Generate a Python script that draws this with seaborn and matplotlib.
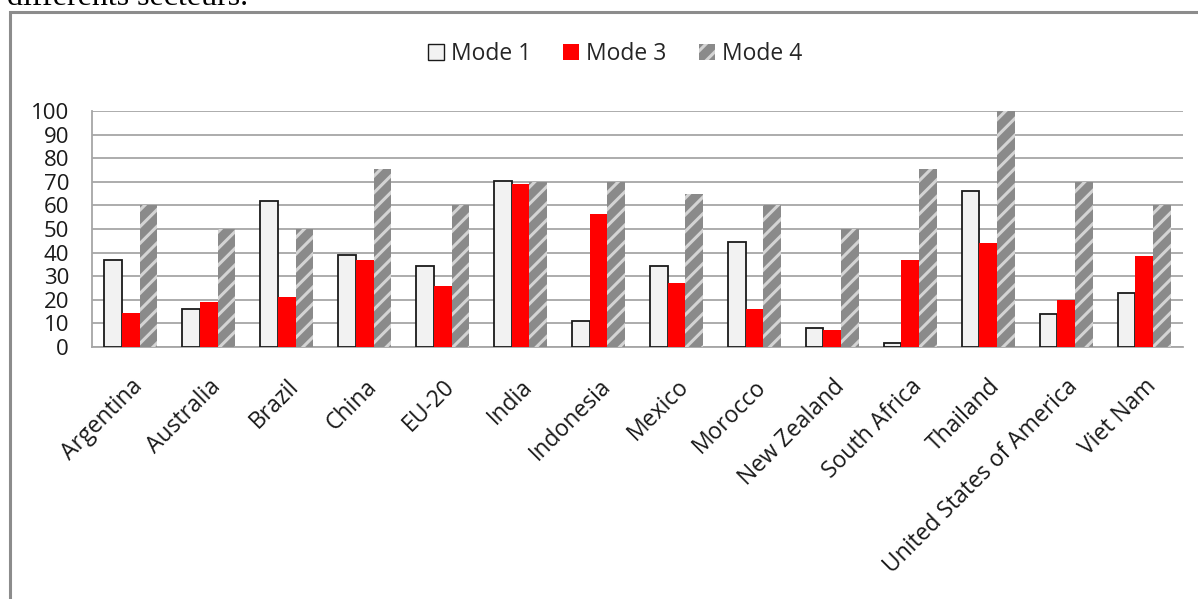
import matplotlib
matplotlib.use("Agg")
import matplotlib.pyplot as plt
import seaborn as sns
import pandas as pd
from matplotlib.patches import Rectangle

countries = ["Argentina", "Australia", "Brazil", "China", "EU-20", "India",
             "Indonesia", "Mexico", "Morocco", "New Zealand", "South Africa",
             "Thailand", "United States of America", "Viet Nam"]
mode1 = [37, 16, 62, 39, 34.5, 70.5, 11, 34.5, 44.5, 8, 1.5, 66, 14, 23]
mode3 = [14.5, 19, 21, 37, 26, 69, 56.5, 27, 16, 7, 37, 44, 20, 38.5]
mode4 = [60, 50, 50, 75.5, 60, 70, 70, 65, 60, 50, 75.5, 100, 70, 60]
series = ["Mode 1", "Mode 3", "Mode 4"]
yticks = list(range(0, 101, 10))

df = pd.DataFrame({
    "country": countries * 3,
    "value": mode1 + mode3 + mode4,
    "mode": [s for s in series for _ in countries],
})

sns.set_theme(style="white")
plt.rcParams["font.family"] = ["Open Sans", "DejaVu Sans"]
plt.rcParams["hatch.linewidth"] = 2.2

W, H = 1198, 599
fig = plt.figure(figsize=(W / 100, H / 100), dpi=100)

# Document caption line sitting above the chart frame
fig.text(7 / W, 1 - 5 / H, "différents secteurs.", family="Liberation Serif",
         fontsize=23, va="baseline", ha="left", color="black")

# Chart frame
fig.patches.append(Rectangle((10 / W, -0.05), 1.2, 1 - 12 / H + 0.05,
                             transform=fig.transFigure, fill=False,
                             edgecolor="#8c8c8c", linewidth=2.2))

ax = fig.add_axes([92 / W, 1 - 347 / H, (1183 - 92) / W, (347 - 111) / H])

palette = {"Mode 1": "#F2F2F2", "Mode 3": "#FF0000", "Mode 4": "#8A8A8A"}
sns.barplot(data=df, x="country", y="value", hue="mode", palette=palette,
            width=0.68, gap=0, ax=ax, saturation=1, legend=False, zorder=3)

styles = [
    dict(edgecolor="#1a1a1a", linewidth=1.3, hatch=None),
    dict(edgecolor="none", linewidth=0, hatch=None),
    dict(edgecolor="#D4D4D4", linewidth=0, hatch="//"),
]
for cont, st in zip(ax.containers, styles):
    for bar in cont:
        bar.set_edgecolor(st["edgecolor"])
        bar.set_linewidth(st["linewidth"])
        if st["hatch"]:
            bar.set_hatch(st["hatch"])

ax.set_ylim(0, 100)
ax.set_xlim(-0.5, len(countries) - 0.5)
ax.set_yticks(yticks)
ax.set_yticklabels([str(t) for t in yticks], fontsize=16, color="#1a1a1a")
ax.yaxis.grid(True, color="#A6A6A6", linewidth=1.3, zorder=0)
ax.set_axisbelow(True)

# Category labels centred under groups, tick marks on group boundaries
ax.set_xticks(range(len(countries)))
ax.set_xticklabels(countries, rotation=45, ha="right", rotation_mode="anchor",
                   fontsize=16.5, color="#1a1a1a")
ax.tick_params(axis="x", which="major", length=0, pad=20)
ax.set_xticks([i - 0.5 for i in range(len(countries) + 1)], minor=True)
ax.tick_params(axis="x", which="minor", length=9, width=1.2, color="#A6A6A6",
               direction="out")
ax.tick_params(axis="y", length=9, width=1.2, color="#A6A6A6", direction="out",
               pad=7.5)

for side in ["top", "right"]:
    ax.spines[side].set_visible(False)
for side in ["left", "bottom"]:
    ax.spines[side].set_color("#A6A6A6")
    ax.spines[side].set_linewidth(1.3)

ax.set_xlabel("")
ax.set_ylabel("")

# Legend across the top
handles = [
    Rectangle((0, 0), 1, 1, facecolor="#F2F2F2", edgecolor="#1a1a1a", linewidth=1.0),
    Rectangle((0, 0), 1, 1, facecolor="#FF0000", edgecolor="none"),
    Rectangle((0, 0), 1, 1, facecolor="#8A8A8A", edgecolor="#D4D4D4",
              linewidth=0, hatch="//"),
]
fig.legend(handles, series, loc="center", bbox_to_anchor=(615 / W, 1 - 54 / H),
           ncol=3, frameon=False, fontsize=16.5, handlelength=0.7,
           handleheight=0.7, handletextpad=0.3, columnspacing=1.4)

fig.savefig("out.png", dpi=100)
